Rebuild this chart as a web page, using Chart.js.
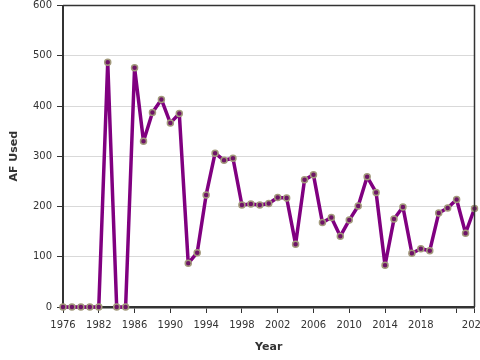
<!DOCTYPE html>
<html>
<head>
<meta charset="utf-8">
<script src="https://cdn.jsdelivr.net/npm/chart.js@4/dist/chart.umd.min.js"></script>
<style>
html,body{margin:0;padding:0;background:#fff;overflow:hidden;}
#wrap{width:480px;height:360px;overflow:hidden;}
canvas{display:block;}
</style>
</head>
<body>
<div id="wrap"><canvas id="c" width="480" height="360"></canvas></div>
<script>
const years = [1976,1979,1980,1981,1982,1983,1984,1985,1986,1987,1988,1989,1990,1991,1992,1993,1994,1995,1996,1997,1998,1999,2000,2001,2002,2003,2004,2005,2006,2007,2008,2009,2010,2011,2012,2013,2014,2015,2016,2017,2018,2019,2020,2021,2022,2023,2024];
const afUsed = [0,0,0,0,0,487,0,0,476,330,387,413,366,385,87,108,223,306,292,296,203,205,203,206,218,217,125,253,263,168,178,141,173,201,259,228,83,175,199,107,116,112,187,197,214,147,196];
const xTickYears = [1976,1982,1986,1990,1994,1998,2002,2006,2010,2014,2018,2022,2024];
const xUnlabeledYears = [2022];
const yTicks = [0,100,200,300,400,500,600];

const framePlugin = {
  id: 'frame',
  afterDraw(chart) {
    const a = chart.chartArea, ctx = chart.ctx;
    ctx.save();
    ctx.strokeStyle = '#333';
    ctx.lineWidth = 1.5;
    ctx.beginPath();
    ctx.moveTo(a.left, a.top);
    ctx.lineTo(a.right, a.top);
    ctx.lineTo(a.right, a.bottom);
    ctx.stroke();
    ctx.restore();
  }
};

new Chart(document.getElementById('c'), {
  type: 'line',
  data: {
    labels: years.map(String),
    datasets: [{
      data: afUsed,
      borderColor: '#800080',
      borderWidth: 3.5,
      borderJoinStyle: 'round',
      borderCapStyle: 'round',
      pointRadius: 3,
      pointBorderWidth: 1.5,
      pointBackgroundColor: '#6e1467',
      pointBorderColor: '#a39a7c',
      tension: 0,
      clip: false
    }]
  },
  options: {
    responsive: false,
    animation: false,
    devicePixelRatio: 1,
    layout: { padding: { left: 0, right: 4, top: 5, bottom: 0 } },
    plugins: { legend: { display: false }, tooltip: { enabled: false } },
    scales: {
      x: {
        type: 'category',
        offset: false,
        border: { color: '#333', width: 2.5 },
        grid: { drawOnChartArea: false, tickColor: '#333', tickLength: 6, tickWidth: 1 },
        ticks: {
          autoSkip: false, maxRotation: 0, minRotation: 0, padding: 6,
          color: '#333', font: { family: 'DejaVu Sans', size: 10 },
          callback: function(v) { const y = years[v]; return xUnlabeledYears.includes(y) ? '' : String(y); }
        },
        afterBuildTicks: function(scale) {
          scale.ticks = scale.ticks.filter(t => xTickYears.includes(years[t.value]));
        },
        afterFit: function(scale) { scale.height = 53; scale.paddingLeft = 0; scale.paddingRight = 0; },
        title: { display: true, text: 'Year', color: '#333', font: { family: 'DejaVu Sans', size: 11, weight: 'bold' }, padding: { top: 0, bottom: 6 } }
      },
      y: {
        min: 0, max: 600,
        border: { color: '#333', width: 2 },
        grid: { color: function(ctx){ return ctx.tick && ctx.tick.value === 0 ? 'rgba(0,0,0,0)' : '#d9d9d9'; }, tickColor: '#333', tickLength: 6, lineWidth: 1 },
        ticks: {
          stepSize: 100, padding: 5, color: '#333', font: { family: 'DejaVu Sans', size: 10 }
        },
        afterBuildTicks: function(scale) { scale.ticks = yTicks.map(v => ({ value: v })); },
        afterFit: function(scale) { scale.width = 63; scale.paddingTop = 0; scale.paddingBottom = 0; },
        title: { display: true, text: 'AF Used', color: '#333', font: { family: 'DejaVu Sans', size: 11, weight: 'bold' }, padding: { top: 8, bottom: 0 } }
      }
    }
  },
  plugins: [framePlugin]
});
</script>
</body>
</html>
